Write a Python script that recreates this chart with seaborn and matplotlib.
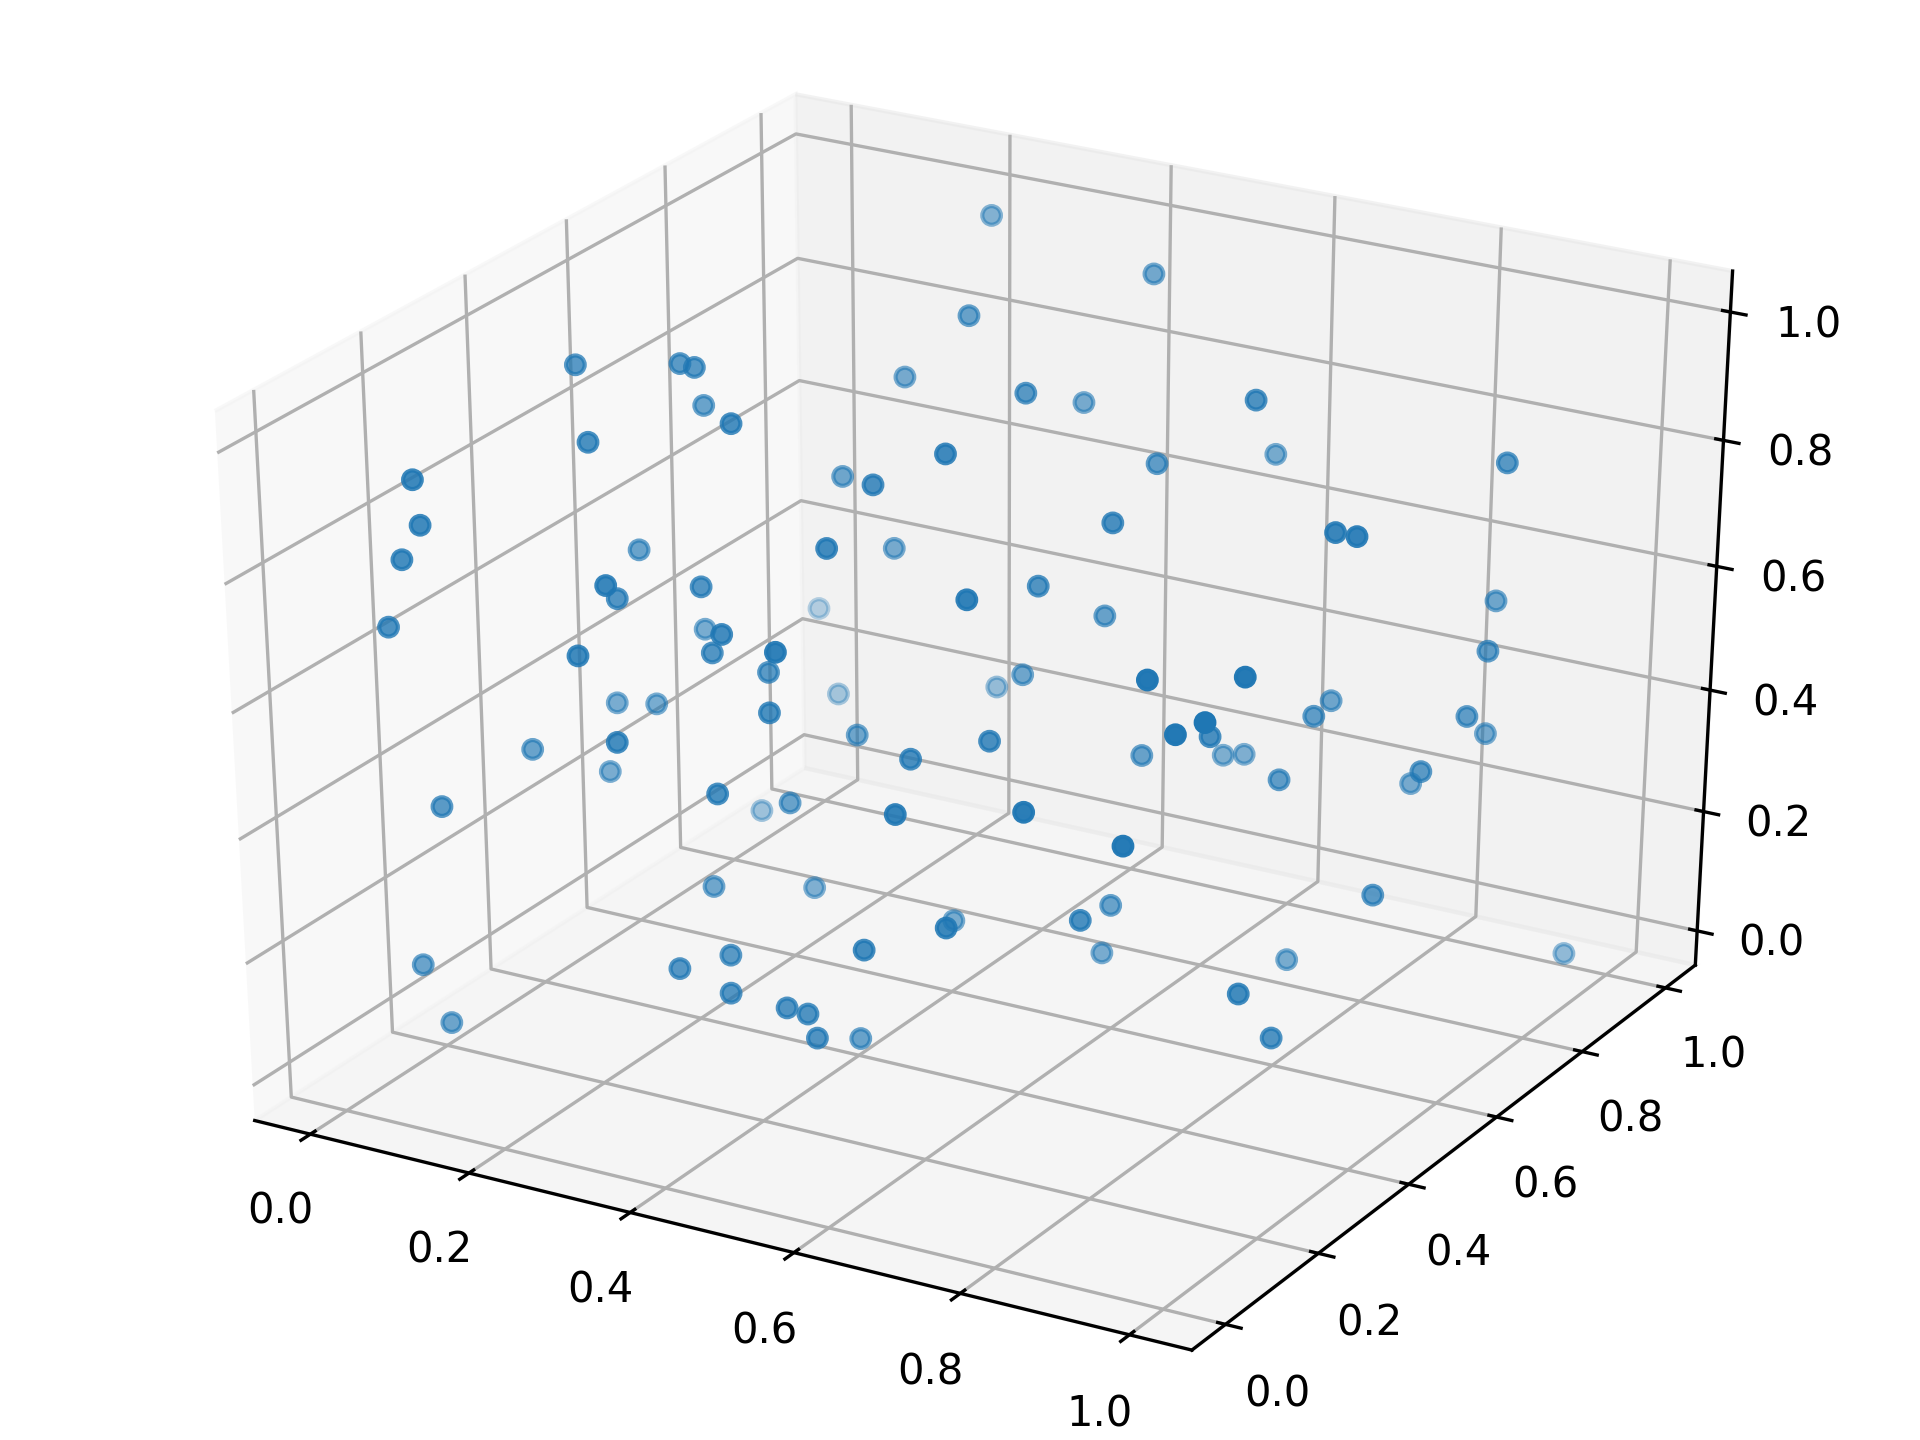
import numpy as np
import matplotlib
matplotlib.use("Agg")
import matplotlib.pyplot as plt
import seaborn as sns

xs = [
    .248, .490, .378, .277, .518, .451, .768, .106, .197, .217,
    .168, .336, .206, .570, .646, .975, .631, .287, .474, .118,
    .125, .101, .700, .955, .999, .160, .485, .328, .333, .254,
    .325, .683, .626, .930, .607, .004, .081, .182, .421, .358,
    .310, .545, .999, .384, .522, .921, .999, .343, .126, .127,
    .164, .460, .814, .861, .999, .939, .999, .963, .859, .392,
    .665, .355, .133, .601, .690, .675, .694, .145, .852, .888,
    .999, .442, .386, .131, .137, .684, .833, .947, .314, .343,
    .999, .714, .807, .515, .743, .646, .448, .663, .836, .999,
    .106, .424, .485, .999, .553, .578, .139, .589, .533, .999,
]
ys = [
    .950, .875, .677, .715, .553, .795, .593, .332, .391, .387,
    .483, .264, .195, .298, .866, .761, .632, .567, .315, .000,
    .000, .000, .415, .421, .384, .361, .203, .604, .021, .167,
    .217, .146, .391, .836, .566, .985, .000, .454, .100, .183,
    .001, .001, .685, .251, .541, .093, .153, .797, .822, .362,
    .382, .127, .688, .561, .642, .805, .071, .076, .339, .416,
    .223, .000, .184, .172, .500, .707, .719, .316, .504, .734,
    .541, .052, .287, .647, .001, .000, .000, .000, .248, .406,
    .441, .393, .163, .407, .000, .000, .062, .466, .560, .895,
    .000, .000, .001, .151, .000, .000, .000, .000, .181, .224,
]
zs = [
    .999, .999, .992, .854, .963, .823, .999, .999, .998, .999,
    .885, .999, .968, .999, .760, .881, .848, .767, .919, .977,
    .910, .851, .875, .926, .949, .713, .877, .647, .865, .754,
    .768, .880, .769, .618, .634, .280, .742, .549, .777, .691,
    .761, .832, .630, .635, .529, .851, .848, .334, .249, .460,
    .459, .654, .498, .549, .548, .423, .820, .789, .626, .457,
    .621, .641, .475, .600, .468, .361, .362, .377, .474, .363,
    .511, .560, .411, .142, .477, .625, .672, .654, .275, .200,
    .366, .289, .413, .197, .467, .403, .302, .158, .150, .033,
    .215, .306, .285, .362, .283, .281, .131, .246, .130, .253,
]

sns.reset_orig()
point_color = sns.color_palette("tab10")[0]

fig = plt.figure(figsize=(6.4, 4.8), dpi=300)
ax = fig.add_subplot(111, projection="3d")

# Stretch the unit cube across the whole figure instead of keeping it square.
ax.apply_aspect = lambda position=None: None
ax.set_position([0.0, 0.0012, 1.0277, 1.0256])
ax._box_aspect = np.array([25 / 24, 25 / 24, 25 / 24])
ax.viewLim.intervalx = (-0.095, 0.095)
ax.viewLim.intervaly = (-0.095, 0.095)

ax.scatter(xs, ys, zs, color=point_color)

ax.set_xlim(-0.071, 1.073)
ax.set_ylim(-0.071, 1.073)
ax.set_zlim(-0.058, 1.063)

fig.savefig("out.png")
